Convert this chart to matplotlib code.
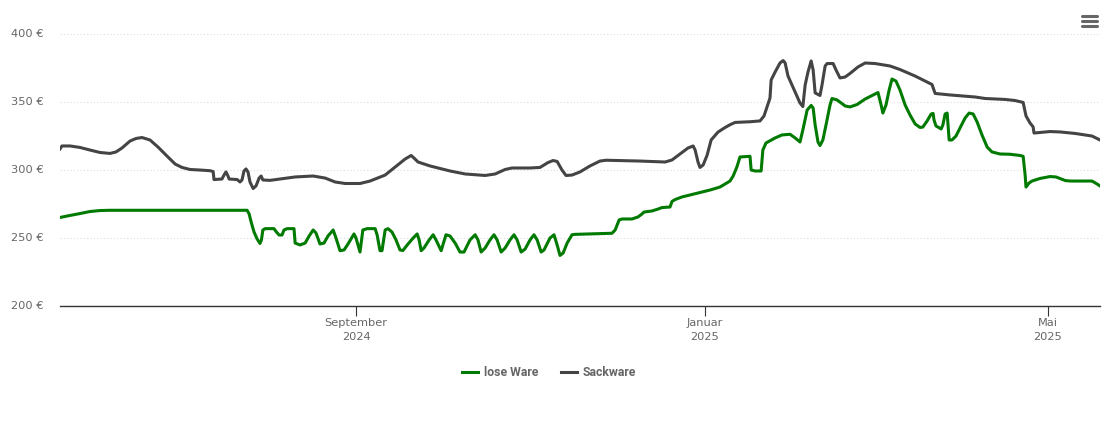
import matplotlib
matplotlib.use("Agg")
import matplotlib.pyplot as plt
import pandas as pd
from matplotlib.lines import Line2D

# Days since the left edge of the chart, prices in euro
start = pd.Timestamp("2024-05-20 08:00")
end_days = 364

lose_days = [0, 3.5, 7, 10.5, 14, 17.5, 65.5, 66.2, 66.9, 67.9, 69, 70, 70.5, 71, 71.8, 74.9, 75.6, 76.7, 77.7, 78.4,
             79.5, 81.9, 82.3, 84, 85.8, 87.2, 88.6, 89.6, 91, 92.4, 93.8, 95.6, 96.6, 98, 99.4, 100.8, 102.9, 103.6,
             105, 106, 107.5, 110.3, 111, 112, 112.7, 113.8, 114.8, 116.2, 117.6, 119, 120, 121.8, 123.6, 125, 125.7,
             126.4, 127.4, 129.2, 130.6, 131.6, 133.4, 134, 135.1, 136.5, 138.3, 140, 141.4, 143.5, 145.3, 146.3,
             147.4, 148.8, 150.5, 151.9, 153, 154.4, 155.8, 157.5, 158.9, 160, 161.4, 162.8, 164.5, 165.9, 167, 168.4,
             169.4, 171.5, 172.9, 174, 175, 176.1, 177.5, 179.2, 180.3, 189, 193.2, 194.3, 195.7, 196.7, 200.2, 202.3,
             203.7, 204.4, 207.2, 209.3, 210.7, 213.5, 214.2, 215.3, 217.7, 224, 227.5, 231, 234.5, 235.6, 236.9, 238,
             241.5, 241.9, 243.3, 245.4, 246, 247.1, 250.3, 252.7, 255.5, 257.3, 259, 260, 261.5, 262.9, 263.6, 264.3,
             265.3, 266, 267, 268.1, 269.5, 270.2, 272, 274.8, 276.5, 279, 281.8, 285.3, 286.3, 287.4, 288, 289.1,
             290.2, 291.2, 292.6, 294, 295.8, 297.5, 299.3, 301, 302, 303.5, 304.9, 305.6, 305.9, 306.6, 308.4, 309,
             309.8, 310.5, 311.2, 312.2, 313.6, 315, 316.8, 318.2, 319.6, 321, 322.7, 324.5, 326.2, 329, 332.5, 336,
             337.1, 337.8, 338.1, 339.2, 340.2, 343, 346.5, 348.6, 351.8, 353.5, 361.2, 363, 364]
lose_price = [265.3, 266.8, 268.2, 269.7, 270.4, 270.6, 270.6, 267.9, 262, 254.7, 249.5, 246.2, 248.8, 256.1, 257.1,
              257.1, 255, 252.4, 252.4, 256.1, 257.1, 257.1, 246.5, 245.1, 246.5, 251.7, 256.1, 253.9, 245.8, 246.5,
              251.7, 256.1, 250.2, 240.9, 241.4, 245.8, 253.2, 250.2, 239.9, 256.1, 257.1, 257.1, 252.4, 240.9, 240.9,
              256.1, 257.1, 254.6, 248.8, 241.4, 241, 245.8, 250.2, 253.2, 248.8, 240.9, 242.9, 248.8, 252.6, 248.8,
              240.9, 245.1, 252.6, 251.7, 246.5, 239.9, 239.9, 248.8, 252.6, 248.8, 239.9, 242.9, 248.8, 252.6, 248.8,
              239.9, 242.9, 248.8, 252.6, 248.8, 239.9, 242.1, 248.8, 252.6, 248.8, 239.9, 241.4, 250.2, 252.6, 245.1,
              237.4, 239.2, 246.5, 252.6, 252.9, 253.4, 253.7, 256.1, 263.5, 264.2, 264.2, 265.7, 267.9, 269.3, 270.1,
              271.5, 272.6, 273, 277.1, 278.5, 280.4, 283.7, 285.5, 287.7, 292.1, 295.8, 302.4, 309.8, 310.3, 300.2,
              299.5, 299.5, 314.9, 320.1, 323.8, 326, 326.5, 323.8, 320.8, 329.7, 344.3, 347.7, 345.8, 333.3, 320.8,
              318.2, 322.3, 333.3, 348, 352.8, 351.7, 347.3, 346.6, 348.4, 352.4, 356.1, 357.2, 348, 342.1, 348, 359,
              367.1, 365.6, 359, 348, 340.7, 334.1, 331.5, 331.8, 336.3, 341.4, 341.8, 337, 332.6, 330.4, 333.3, 341.4,
              342.1, 322.3, 322.3, 325.2, 331.1, 338.5, 342.1, 341.4, 335.5, 326, 317.1, 313.5, 312, 311.8, 310.9,
              310.3, 296.5, 287.7, 290.7, 292.1, 294, 295.4, 295.1, 292.5, 292.1, 292.1, 289.9, 288.5]

sack_days = [0, 0.7, 3.5, 7, 10.5, 14, 17.5, 19.6, 21.7, 24.5, 26.6, 28.7, 31.5, 34.3, 37.1, 40.3, 42.7, 45.5, 49, 52.5,
             53.6, 53.9, 56.7, 57.4, 58.1, 58.8, 59.2, 62, 63, 63.7, 64.4, 65.1, 65.8, 66.5, 67.6, 68.6, 69.7, 70.4, 71,
             73.5, 77, 82.3, 88.6, 92.8, 96.3, 99.8, 105, 108.5, 113.8, 117.3, 120.8, 122.9, 123.9, 125.3, 129.5, 136.5,
             141.8, 148.8, 152.3, 155.8, 158.2, 164.5, 168, 170.8, 172.6, 174, 175.7, 177.1, 179.2, 182, 185.5, 189,
             191.1, 203, 211.8, 214.2, 217, 219.8, 221.6, 222.3, 223.3, 224, 225.1, 226.5, 227.9, 230.3, 232.8, 234.5,
             236.3, 241.5, 245, 246.4, 247.8, 248.5, 248.9, 250.3, 252, 253.1, 253.8, 254.8, 257.3, 259, 260, 260.8,
             261.8, 262.9, 263.6, 264.3, 266, 266.7, 267.8, 268.5, 270.6, 271.6, 273, 274.8, 276.5, 279.3, 281.8, 285.3,
             290.5, 294, 299.3, 305.2, 306.3, 311.5, 320.3, 323.8, 330.8, 334.3, 337.1, 338.1, 339.5, 340.6, 340.9,
             346.5, 350, 355.3, 361.2, 364]
sack_price = [315.7, 317.9, 317.9, 316.8, 314.9, 313.1, 312.4, 313.5, 316.4, 321.5, 323.4, 324.1, 322.3, 317.1, 311.2,
              304.6, 302.1, 300.6, 300.2, 299.7, 299.1, 293.2, 293.6, 296.5, 298.8, 295.8, 293.6, 293.2, 291.4, 292.9,
              299.5, 301, 298.8, 291.4, 286.6, 288.5, 294.3, 295.8, 292.9, 292.6, 293.6, 295.1, 295.8, 294.3, 291.4,
              290.3, 290.3, 292.1, 296.5, 302.4, 308.3, 310.9, 309, 306.1, 303.2, 299.5, 297.3, 296.2, 297.3, 300.6,
              301.7, 301.7, 302.1, 305.7, 307.2, 306.5, 300.2, 296.2, 296.5, 298.8, 303.2, 306.8, 307.4, 306.8, 306.1,
              307.6, 312, 316.4, 317.9, 314.9, 306.1, 302.1, 303.9, 311.2, 322.3, 328.1, 331.5, 333.5, 335.2, 335.7,
              336.3, 339.9, 348.8, 353.2, 366.4, 372.3, 378.9, 380.7, 378.9, 369.3, 357.6, 349.5, 346.9, 362.7, 372.3,
              380.4, 373.8, 356.9, 355, 362.7, 376.7, 378.5, 378.5, 373.8, 367.9, 368.6, 371.2, 376, 378.9, 378.5, 376.7,
              374.1, 369.3, 363.1, 356.5, 355.4, 353.9, 352.8, 352.1, 351.3, 349.9, 340, 334.8, 331.9, 327.4, 328.5,
              328.2, 327.1, 325.2, 322.3]

y_ticks = [200, 250, 300, 350, 400]
x_tick_dates = ["2024-09-01", "2025-01-01", "2025-05-01"]
x_tick_labels = ["September\n2024", "Januar\n2025", "Mai\n2025"]

green = "#007a00"
dark = "#444444"
text_col = "#666666"

fig = plt.figure(figsize=(11.1, 4.23), dpi=100)
ax = fig.add_axes([60 / 1110, (423 - 306.3) / 423, 1040 / 1110, 272 / 423])

lose_x = start + pd.to_timedelta(lose_days, unit="D")
sack_x = start + pd.to_timedelta(sack_days, unit="D")
ax.plot(lose_x, lose_price, color=green, lw=2.2, label="lose Ware", solid_joinstyle="round", zorder=3)
ax.plot(sack_x, sack_price, color=dark, lw=2.2, label="Sackware", solid_joinstyle="round", zorder=3)

ax.set_xlim(start, start + pd.Timedelta(days=end_days))
ax.set_ylim(200, 400)

ax.set_yticks(y_ticks)
ax.set_yticklabels([f"{v} €" for v in y_ticks], color=text_col, fontsize=8.2, va="center")
ax.set_xticks(pd.to_datetime(x_tick_dates))
ax.set_xticklabels(x_tick_labels, color=text_col, fontsize=8.2, linespacing=1.45)
ax.tick_params(axis="y", length=0, pad=11.5)
ax.tick_params(axis="x", length=7.5, width=0.8, color="#333333", pad=1)
ax.grid(axis="y", color="#dddddd", lw=0.8, ls=(0, (1, 2)))
ax.set_axisbelow(True)
for side in ["top", "left", "right"]:
    ax.spines[side].set_visible(False)
ax.spines["bottom"].set_color("#333333")
ax.spines["bottom"].set_linewidth(1.0)
ax.patch.set_alpha(0)

leg = fig.legend(loc="center", bbox_to_anchor=(549 / 1110, 1 - 372.5 / 423), ncol=2, frameon=False,
                 prop={"family": "Roboto", "size": 8.8, "weight": "bold"}, handlelength=1.36,
                 handletextpad=0.45, columnspacing=1.85)
for t in leg.get_texts():
    t.set_color(text_col)

# menu icon top right
for py in [16, 21, 26]:
    fig.add_artist(Line2D([1082 / 1110, 1097 / 1110], [1 - py / 423] * 2, color="#666666", lw=2.2,
                          solid_capstyle="round"))

fig.savefig("out.png", dpi=100)
